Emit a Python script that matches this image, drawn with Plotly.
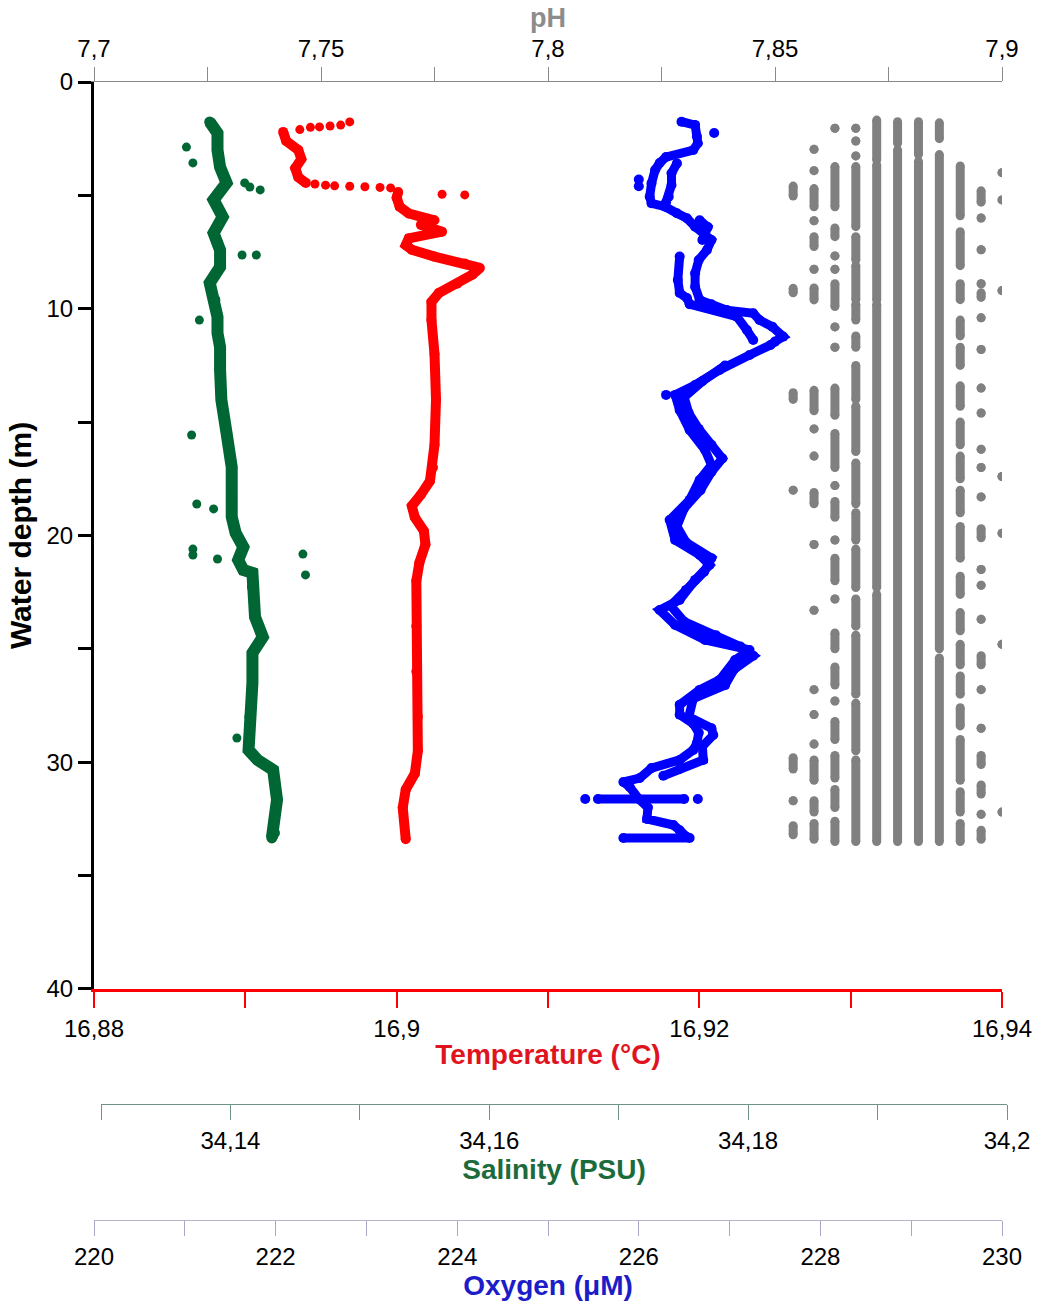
import plotly.graph_objects as go

# ---- salinity (green), depth in m ----
sal_depth = [1.76, 2.25, 3.0, 3.75, 4.45, 5.2, 5.95, 6.66, 7.41, 8.16, 8.86, 9.61, 10.36,
             11.07, 11.69, 12.7, 14.02, 15.48, 16.98, 18.44, 19.18, 19.89, 20.51, 21.08,
             21.52, 21.65, 22.27, 23.59, 24.48, 25.18, 26.5, 28.0, 29.46, 29.9, 30.34,
             31.66, 33.12, 33.34]
sal_value = [34.1384, 34.1390, 34.1390, 34.1392, 34.1397, 34.1387, 34.1394, 34.1387, 34.1392,
             34.1392, 34.1384, 34.1388, 34.1390, 34.1390, 34.1392, 34.1392, 34.1393, 34.1397,
             34.1401, 34.1401, 34.1401, 34.1404, 34.1410, 34.1406, 34.1410, 34.1417, 34.1417,
             34.1419, 34.1425, 34.1417, 34.1417, 34.1415, 34.1414, 34.1421, 34.1433, 34.1436,
             34.1434, 34.1432]
sal_out_depth = [2.87, 3.57, 4.45, 4.63, 4.76, 7.63, 7.63, 10.5, 15.57, 18.61, 18.83, 20.6,
                 20.86, 21.04, 20.82, 21.74, 28.93, 20.68]
sal_out_value = [34.1366, 34.1371, 34.1411, 34.1415, 34.1423, 34.1409, 34.1420, 34.1376,
                 34.1370, 34.1374, 34.1387, 34.1371, 34.1371, 34.1390, 34.1456, 34.1458,
                 34.1405, 34.1299]

# ---- temperature (red) ----
temp_depth = [2.2, 2.6, 3.0, 3.4, 3.8, 4.2, 4.45, None, 4.85, 5.1, 5.5, 5.8, 6.1, 6.3, 6.6,
              6.9, 7.2, 7.4, 7.7, 8.0, 8.2, 8.5, 8.9, 9.3, 9.7, 10.5, 12.0, 14.0, 16.0, 17.0,
              17.6, 18.2, 18.7, 19.2, 19.8, 20.4, 21.2, 22.0, 24.0, 26.0, 28.0, 29.5, 30.5,
              31.2, 32.0, 33.4]
temp_value = [16.8925, 16.8927, 16.8935, 16.8937, 16.8933, 16.8935, 16.8940, None, 16.9001,
              16.9000, 16.9002, 16.9008, 16.9025, 16.9016, 16.9030, 16.9008, 16.9006, 16.9010,
              16.9025, 16.9045, 16.9055, 16.9050, 16.9040, 16.9028, 16.9023, 16.9023, 16.9025,
              16.9026, 16.9025, 16.9024, 16.9022, 16.9016, 16.9010, 16.9012, 16.9018, 16.9019,
              16.9015, 16.9013, 16.9013, 16.9013, 16.9014, 16.9014, 16.9012, 16.9006, 16.9004,
              16.9006]
temp_sparse_depth = [2.1, 2.0, 1.98, 1.94, 1.9, 1.76, 4.5, 4.55, 4.58, 4.6, 4.62, 4.65, 4.67,
                     4.95, 4.98]
temp_sparse_value = [16.8936, 16.8943, 16.8949, 16.8956, 16.8963, 16.8969, 16.8946, 16.8953,
                     16.8959, 16.8969, 16.8979, 16.8989, 16.8996, 16.9030, 16.9045]

# ---- oxygen (blue), two casts ----
oxy_a_depth = [1.75, 1.9, 2.4, 2.7, 3.0, 3.31, 3.57, 3.88, 4.47, 5.06, 5.35, 5.5, 5.79, 6.01,
               6.38, 6.97, 7.41, 7.85, 8.44, 9.03, 9.61, 9.8, 10.06, 10.2, 10.5, 10.79, 11.23,
               11.45, 11.6, 12.04, 12.7, 13.36, 13.8, 14.47, 15.35, 16.23, 16.89, 17.55,
               18.43, 19.32, 20.2, 20.86, 21.3, 21.96, 22.84, 23.29, 23.95, 24.61, 25.05,
               25.49, 26.37, 26.81, 27.47, 27.9, 28.3, 28.7, 29.15, 29.46, 29.9, 30.26, 30.7,
               30.87, 31.09, 31.62, 32.0, 32.5, 32.77, 33.0, 33.3]
oxy_a_value = [226.47, 226.62, 226.64, 226.65, 226.6, 226.3, 226.23, 226.18, 226.14, 226.12,
               226.14, 226.29, 226.42, 226.53, 226.62, 226.8, 226.75, 226.66, 226.62, 226.62,
               226.67, 226.8, 226.97, 227.26, 227.33, 227.47, 227.59, 227.5, 227.45, 227.22,
               226.89, 226.62, 226.4, 226.45, 226.56, 226.73, 226.8, 226.67, 226.56, 226.34,
               226.4, 226.67, 226.78, 226.62, 226.45, 226.23, 226.4, 226.73, 227.22, 227.06,
               226.89, 226.67, 226.45, 226.45, 226.6, 226.66, 226.64, 226.6, 226.45, 226.14,
               226.01, 225.83, 225.9, 226.0, 226.1, 226.09, 226.38, 226.45, 226.53]
oxy_b_depth = [3.59, 4.03, 4.54, 5.06, 5.3, None, 6.1, 6.4, 6.97, None, 7.7, 8.73, 9.3, 9.53,
               9.8, 10.35, 10.94, 11.38, None, 12.5, 13.2, 13.9, 14.6, 15.3, 16.0, 16.6,
               17.2, 18.0, 18.8, 19.6, 20.3, 21.0, 21.6, 22.4, 23.1, 23.8, 24.4, 24.9, 25.3,
               25.9, 26.6, 27.2, 28.0, 28.5, 28.8, 29.3, 29.9, 30.3, 30.6]
oxy_b_value = [226.42, 226.36, 226.36, 226.33, 226.3, None, 226.67, 226.76, 226.7, None,
               226.45, 226.43, 226.45, 226.53, 226.56, 227.08, 227.19, 227.26, None, 226.95,
               226.7, 226.5, 226.55, 226.66, 226.8, 226.92, 226.8, 226.68, 226.5, 226.42,
               226.52, 226.8, 226.72, 226.52, 226.35, 226.5, 226.85, 227.12, 227.26, 227.05,
               226.95, 226.6, 226.55, 226.8, 226.82, 226.7, 226.71, 226.45, 226.27]
# horizontal bursts (depth, lowest, highest)
oxy_row_depth = [31.62, 33.34]
oxy_row_low = [225.55, 225.83]
oxy_row_high = [226.5, 226.56]
oxy_dot_depth = [2.25, 4.3, 4.6, 31.62, 31.62, 13.8]
oxy_dot_value = [226.83, 226.0, 226.0, 225.41, 226.65, 226.3]

# ---- pH (grey): discrete levels, runs of depth (top, bottom) ----
ph_levels = [7.854, 7.8586, 7.8632, 7.8678, 7.8724, 7.877, 7.8816, 7.8862, 7.8908, 7.8954, 7.9]
ph_runs = [
    [(4.59, 5.03), (9.1, 9.3), (13.7, 14.0), (18.0, 18.0), (29.8, 30.3), (31.7, 31.7),
     (32.8, 33.2)],
    [(2.97, 2.97), (3.91, 3.91), (4.7, 5.5), (6.12, 6.12), (6.82, 7.26), (8.26, 8.26),
     (9.08, 9.61), (13.6, 14.5), (15.3, 15.3), (16.5, 16.5), (18.1, 18.6), (20.4, 20.4),
     (23.3, 23.3), (26.8, 26.8), (27.9, 27.9), (29.2, 29.2), (29.9, 30.8), (31.7, 32.2),
     (32.7, 33.4)],
    [(2.04, 2.04), (3.73, 5.5), (6.44, 6.82), (7.67, 7.67), (8.26, 8.26), (8.9, 9.9),
     (10.8, 10.8), (11.7, 11.7), (13.5, 14.7), (15.5, 17.0), (17.8, 17.8), (18.5, 19.2),
     (20.2, 20.2), (21.0, 22.0), (22.8, 22.8), (24.3, 25.0), (25.8, 26.6), (27.3, 27.3),
     (28.2, 29.0), (29.7, 30.7), (31.2, 32.0), (32.6, 33.5)],
    [(2.04, 2.04), (2.6, 2.6), (3.26, 3.26), (3.73, 6.38), (6.82, 7.85), (8.1, 9.6),
     (9.8, 10.5), (11.2, 11.7), (12.5, 14.0), (14.3, 16.3), (16.8, 18.6), (19.0, 20.2),
     (20.6, 22.3), (22.8, 24.0), (24.4, 27.0), (27.4, 29.5), (29.9, 33.5)],
    [(1.68, 3.44), (3.66, 9.61), (9.8, 22.3), (22.6, 33.5)],
    [(1.75, 2.7), (3.0, 33.5)],
    [(1.75, 3.2), (3.5, 33.5)],
    [(1.8, 2.5), (3.2, 25.0), (25.4, 33.5)],
    [(3.7, 5.9), (6.6, 8.1), (8.9, 9.6), (10.5, 11.2), (11.7, 12.5), (13.4, 14.3),
     (15.0, 16.0), (16.5, 17.5), (18.0, 19.0), (19.6, 21.0), (21.8, 22.6), (23.4, 24.2),
     (24.8, 25.7), (26.2, 27.0), (27.6, 28.4), (29.0, 30.8), (31.3, 32.2), (32.7, 33.5)],
    [(4.8, 5.3), (6.0, 6.0), (7.4, 7.4), (8.9, 8.9), (9.3, 9.5), (10.4, 10.4), (11.8, 11.8),
     (13.5, 13.5), (14.6, 14.6), (16.2, 16.2), (17.0, 17.0), (18.3, 18.3), (19.7, 20.1),
     (21.5, 21.5), (22.2, 22.2), (23.7, 23.7), (25.3, 25.7), (26.8, 26.8), (28.5, 28.5),
     (29.7, 30.1), (31.0, 31.4), (32.3, 32.3), (33.0, 33.4)],
    [(4.0, 4.0), (5.2, 5.2), (9.2, 9.2), (17.4, 17.4), (19.9, 19.9), (24.8, 24.8),
     (32.2, 32.2)],
]

depth_ticks = [0, 5, 10, 15, 20, 25, 30, 35, 40]
depth_labels = ["0", "", "10", "", "20", "", "30", "", "40"]
ph_ticks = [7.7, 7.725, 7.75, 7.775, 7.8, 7.825, 7.85, 7.875, 7.9]
ph_labels = ["7,7", "", "7,75", "", "7,8", "", "7,85", "", "7,9"]
temp_ticks = [16.88, 16.89, 16.90, 16.91, 16.92, 16.93, 16.94]
temp_labels = ["16,88", "", "16,9", "", "16,92", "", "16,94"]
sal_ticks = [34.13, 34.14, 34.15, 34.16, 34.17, 34.18, 34.19, 34.20]
sal_labels = ["", "34,14", "", "34,16", "", "34,18", "", "34,2"]
oxy_ticks = list(range(220, 231))
oxy_labels = [str(v) if v % 2 == 0 else "" for v in oxy_ticks]

GREEN = "#006633"
RED = "#ff0000"
BLUE = "#0000ff"
GREY = "#808080"
FONT = "Arial, Liberation Sans, sans-serif"

ph_x, ph_y = [], []
for level, runs in zip(ph_levels, ph_runs):
    for top, bottom in runs:
        ph_x += [level, level, None]
        ph_y += [top, bottom, None]

row_x, row_y = [], []
for d, lo, hi in zip(oxy_row_depth, oxy_row_low, oxy_row_high):
    row_x += [lo, hi, None]
    row_y += [d, d, None]

fig = go.Figure()
fig.add_trace(go.Scatter(x=ph_x, y=ph_y, xaxis="x2", yaxis="y", mode="lines+markers",
                         line=dict(color=GREY, width=9), marker=dict(color=GREY, size=9),
                         connectgaps=False, name="pH"))
fig.add_trace(go.Scatter(x=sal_value, y=sal_depth, xaxis="x3", yaxis="y", mode="lines+markers",
                         line=dict(color=GREEN, width=12), marker=dict(color=GREEN, size=11),
                         name="Salinity"))
fig.add_trace(go.Scatter(x=sal_out_value, y=sal_out_depth, xaxis="x3", yaxis="y", mode="markers",
                         marker=dict(color=GREEN, size=9), cliponaxis=False, name="Salinity"))
fig.add_trace(go.Scatter(x=temp_value, y=temp_depth, xaxis="x", yaxis="y", mode="lines+markers",
                         line=dict(color=RED, width=10), marker=dict(color=RED, size=10),
                         connectgaps=False, name="Temperature"))
fig.add_trace(go.Scatter(x=temp_sparse_value, y=temp_sparse_depth, xaxis="x", yaxis="y",
                         mode="markers", marker=dict(color=RED, size=9), name="Temperature"))
for dep, val in ((oxy_a_depth, oxy_a_value), (oxy_b_depth, oxy_b_value)):
    fig.add_trace(go.Scatter(x=val, y=dep, xaxis="x4", yaxis="y", mode="lines+markers",
                             line=dict(color=BLUE, width=9), marker=dict(color=BLUE, size=10),
                             connectgaps=False, name="Oxygen"))
fig.add_trace(go.Scatter(x=row_x, y=row_y, xaxis="x4", yaxis="y", mode="lines+markers",
                         line=dict(color=BLUE, width=9), marker=dict(color=BLUE, size=10),
                         connectgaps=False, name="Oxygen"))
fig.add_trace(go.Scatter(x=oxy_dot_value, y=oxy_dot_depth, xaxis="x4", yaxis="y",
                         mode="markers", marker=dict(color=BLUE, size=10), name="Oxygen"))

pw = 913.0  # paper width in px
tick_font = dict(family=FONT, size=24, color="black")
common = dict(showgrid=False, zeroline=False, showline=True, ticks="outside",
              tickfont=tick_font, automargin=False)

fig.update_layout(
    width=1038, height=1307,
    margin=dict(l=94, r=31, t=82, b=67),
    paper_bgcolor="white", plot_bgcolor="rgba(0,0,0,0)",
    showlegend=False,
    font=dict(family=FONT),
    yaxis=dict(domain=[0.2168, 1], range=[40, 0], tickvals=depth_ticks, ticktext=depth_labels,
               linecolor="black", linewidth=3, tickcolor="black", tickwidth=3, ticklen=13,
               title=dict(text="<b>Water depth (m)</b>", font=dict(size=30, color="black"),
                          standoff=6),
               **common),
    xaxis=dict(domain=[0, 908 / pw], range=[16.88, 16.94], tickvals=temp_ticks,
               ticktext=temp_labels, anchor="y", side="bottom",
               linecolor=RED, linewidth=3, tickcolor=RED, tickwidth=2, ticklen=16,
               title=dict(text="<b>Temperature (°C)</b>", font=dict(size=28, color="#e0141e"),
                          standoff=4),
               **common),
    xaxis2=dict(overlaying="x", anchor="y", side="top", range=[7.7, 7.9], tickvals=ph_ticks,
                ticktext=ph_labels, linecolor="#8a8a8a", linewidth=1, tickcolor="#8a8a8a",
                tickwidth=1, ticklen=14, **common),
    xaxis3=dict(domain=[7 / pw, 1.0], anchor="free", position=0.1174, side="bottom",
                range=[34.13, 34.20], tickvals=sal_ticks, ticktext=sal_labels,
                linecolor="#6f9484", linewidth=1, tickcolor="#6f9484", tickwidth=1, ticklen=15,
                title=dict(text="<b>Salinity (PSU)</b>", font=dict(size=28, color="#1b6b3c"),
                           standoff=4),
                **common),
    xaxis4=dict(overlaying="x", anchor="free", position=0.0173, side="bottom",
                range=[220, 230], tickvals=oxy_ticks, ticktext=oxy_labels,
                linecolor="#b4b4cc", linewidth=1, tickcolor="#a8a8c8", tickwidth=1, ticklen=15,
                title=dict(text="<b>Oxygen (μM)</b>", font=dict(size=28, color="#1c1cc8"),
                           standoff=4),
                **common),
    annotations=[dict(text="<b>pH</b>", xref="x domain", yref="paper", x=0.5, y=1.0553,
                      xanchor="center", yanchor="middle", showarrow=False,
                      font=dict(family=FONT, size=27, color="#8c8c8c"))],
)

# drop the default 8 px page margin so the figure sits at the window's corner
fig.write_html("out.html", config={"displayModeBar": False},
               post_script="document.body.style.margin = '0';")
